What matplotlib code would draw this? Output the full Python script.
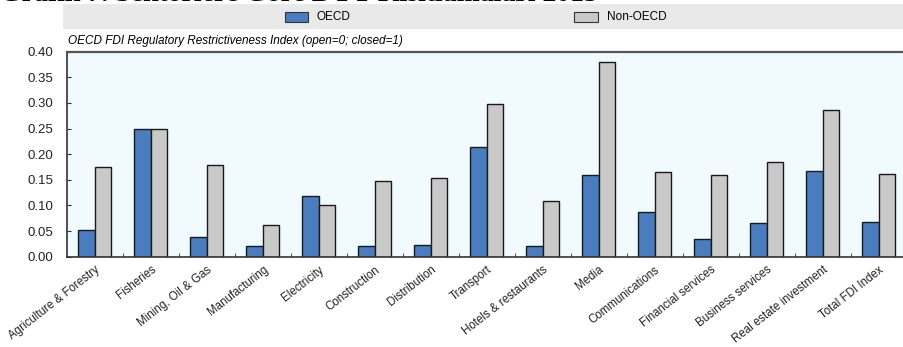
import matplotlib.pyplot as plt
import matplotlib.patches as mpatches
import numpy as np

sectors = ["Agriculture & Forestry", "Fisheries", "Mining, Oil & Gas",
           "Manufacturing", "Electricity", "Construction", "Distribution",
           "Transport", "Hotels & restaurants", "Media", "Communications",
           "Financial services", "Business services",
           "Real estate investment", "Total FDI Index"]

oecd = [0.053, 0.250, 0.038, 0.021, 0.118, 0.020, 0.023, 0.215,
        0.021, 0.159, 0.087, 0.035, 0.066, 0.167, 0.068]

non_oecd = [0.176, 0.249, 0.179, 0.061, 0.100, 0.148, 0.153, 0.298,
            0.109, 0.379, 0.166, 0.160, 0.185, 0.287, 0.161]

yticks = [0.00, 0.05, 0.10, 0.15, 0.20, 0.25, 0.30, 0.35, 0.40]

blue = "#4a7dc0"
grey = "#c9c9c9"
sans = ["Liberation Sans", "DejaVu Sans"]

fig = plt.figure(figsize=(9.04, 3.47), dpi=100)

# title of the page, cut off at the top edge like in the scan
fig.text(0.0, 0.9975, "Grafik 7. Sektörlere Göre DYY Kısıtlamaları 2015",
         family="Liberation Serif", weight="bold", fontsize=20,
         va="baseline", ha="left")

# legend band
fig.patches.append(mpatches.Rectangle((0.0697, 0.916), 0.94, 0.072,
                                      transform=fig.transFigure,
                                      facecolor="#e9e9e9", edgecolor="none"))
fig.patches.append(mpatches.Rectangle((0.315, 0.938), 0.026, 0.026,
                                      transform=fig.transFigure,
                                      facecolor=blue, edgecolor="#333333", lw=0.8))
fig.text(0.350, 0.951, "OECD", family=sans, fontsize=8.5, va="center")
fig.patches.append(mpatches.Rectangle((0.635, 0.938), 0.026, 0.026,
                                      transform=fig.transFigure,
                                      facecolor=grey, edgecolor="#333333", lw=0.8))
fig.text(0.671, 0.951, "Non-OECD", family=sans, fontsize=8.5, va="center")

fig.text(0.0752, 0.882,
         "OECD FDI Regulatory Restrictiveness Index (open=0; closed=1)",
         family=sans, style="italic", fontsize=8.5, va="center")

ax = fig.add_axes([0.0741, 0.2602, 0.929, 0.5908])
ax.set_facecolor("#f0faff")

x = np.arange(len(sectors))
w = 0.295
ax.bar(x - w / 2, oecd, w, color=blue, edgecolor="#1a1a1a", lw=1.0)
ax.bar(x + w / 2, non_oecd, w, color=grey, edgecolor="#1a1a1a", lw=1.0)

ax.set_xlim(-0.5, len(sectors) - 0.5)
ax.set_ylim(0, 0.40)
ax.set_yticks(yticks)
ax.set_yticklabels(["%.2f" % v for v in yticks], family=sans,
                   fontsize=9.5, color="#222222")
ax.tick_params(axis="y", direction="in", length=3, pad=10, color="#333333")

ax.set_xticks(x)
ax.set_xticklabels(sectors, rotation=38, ha="right", rotation_mode="anchor",
                   family=sans, fontsize=8.3, color="#222222")
ax.set_xticks(x[:-1] + 0.5, minor=True)
ax.tick_params(axis="x", which="major", length=0, pad=5)
ax.tick_params(axis="x", which="minor", direction="in", length=3,
               color="#333333")

ax.spines["right"].set_visible(False)
ax.spines["top"].set_color("#555555")
ax.spines["top"].set_linewidth(1.6)
ax.spines["left"].set_color("#333333")
ax.spines["bottom"].set_color("#333333")
ax.spines["left"].set_linewidth(1.2)
ax.spines["bottom"].set_linewidth(1.2)

fig.savefig("out.png", dpi=100)
